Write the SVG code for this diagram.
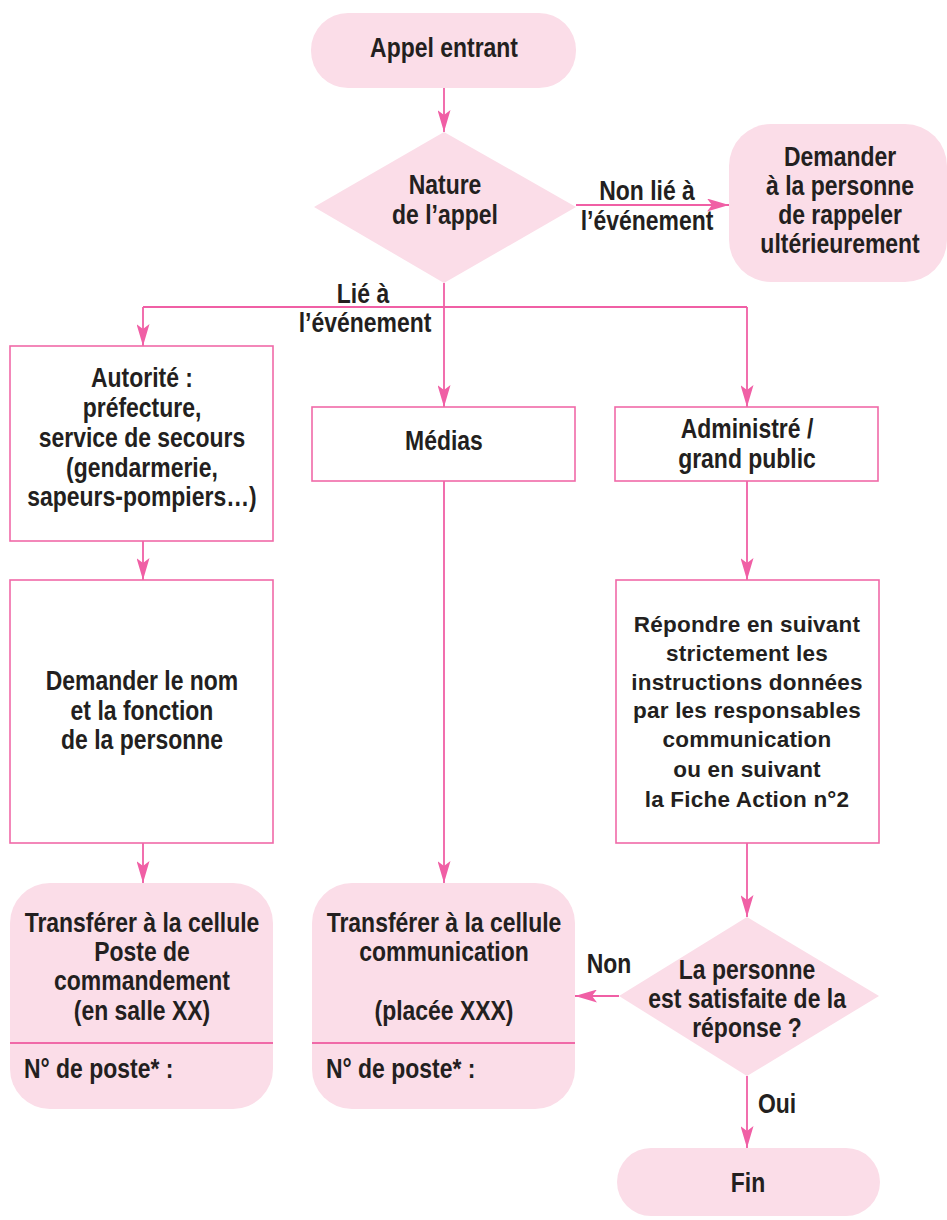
<svg xmlns="http://www.w3.org/2000/svg" width="947" height="1220" viewBox="0 0 947 1220">
<style>
.t{font-family:"Liberation Sans",Arial,sans-serif;font-weight:bold;font-size:27px;fill:#231f20;text-anchor:middle;transform-box:fill-box;transform-origin:50% 50%;transform:scaleX(0.85)}
.w{font-family:"Liberation Sans",Arial,sans-serif;font-weight:bold;font-size:22.5px;fill:#231f20;text-anchor:middle;letter-spacing:0.2px}
.l{text-anchor:start;transform-origin:0% 50%}
.pink{fill:#fbdde8;stroke:none}
.box{fill:#fff;stroke:#f06aa8;stroke-width:1.6}
.c{fill:none;stroke:#f05fa5;stroke-width:1.8}
</style>
<defs>
<marker id="a" viewBox="0 0 22 13" refX="22" refY="6.5" markerWidth="22" markerHeight="13" markerUnits="userSpaceOnUse" orient="auto">
<path d="M0,0 L22,6.5 L0,13 L5,6.5 z" fill="#f05fa5"/>
</marker>
</defs>
<g id="connectors">
<path class="c" d="M444,88 V132" marker-end="url(#a)"/>
<path class="c" d="M576,205 H729" marker-end="url(#a)"/>
<path class="c" d="M444,283 V407" marker-end="url(#a)"/>
<path class="c" d="M143,307 H747"/>
<path class="c" d="M143,307 V346" marker-end="url(#a)"/>
<path class="c" d="M747,307 V407" marker-end="url(#a)"/>
<path class="c" d="M143,541 V580" marker-end="url(#a)"/>
<path class="c" d="M143,843 V883" marker-end="url(#a)"/>
<path class="c" d="M444,481 V883" marker-end="url(#a)"/>
<path class="c" d="M747,481 V580" marker-end="url(#a)"/>
<path class="c" d="M747,843 V917" marker-end="url(#a)"/>
<path class="c" d="M619,996 H575" marker-end="url(#a)"/>
<path class="c" d="M747,1076 V1148" marker-end="url(#a)"/>
<text class="t" x="647" y="200">Non lié à</text>
<text class="t" x="647" y="230">l’événement</text>
<text class="t" x="363" y="303">Lié à</text>
<text class="t" x="365" y="332">l’événement</text>
<text class="t" x="609" y="973">Non</text>
<text class="t" x="777" y="1113">Oui</text>
</g>
<g id="appel">
<rect class="pink" x="311" y="13" width="265" height="75" rx="37"/>
<text class="t" x="444" y="57">Appel entrant</text>
</g>
<g id="nature">
<polygon class="pink" points="444,132 576,207 444,283 314,207"/>
<text class="t" x="445" y="194">Nature</text>
<text class="t" x="445" y="224">de l’appel</text>
</g>
<g id="rappeler">
<rect class="pink" x="729" y="124" width="218" height="158" rx="42"/>
<text class="t" x="840" y="166">Demander</text>
<text class="t" x="840" y="195">à la personne</text>
<text class="t" x="840" y="224">de rappeler</text>
<text class="t" x="840" y="253">ultérieurement</text>
</g>
<g id="autorite">
<rect class="box" x="10" y="346" width="263" height="195"/>
<text class="t" x="142" y="387">Autorité :</text>
<text class="t" x="142" y="417">préfecture,</text>
<text class="t" x="142" y="447">service de secours</text>
<text class="t" x="142" y="477">(gendarmerie,</text>
<text class="t" x="142" y="506">sapeurs-pompiers…)</text>
</g>
<g id="medias">
<rect class="box" x="312" y="407" width="263" height="74"/>
<text class="t" x="444" y="450">Médias</text>
</g>
<g id="administre">
<rect class="box" x="615" y="407" width="263" height="74"/>
<text class="t" x="747" y="438">Administré /</text>
<text class="t" x="747" y="468">grand public</text>
</g>
<g id="demander-nom">
<rect class="box" x="10" y="580" width="263" height="263"/>
<text class="t" x="142" y="690">Demander le nom</text>
<text class="t" x="142" y="720">et la fonction</text>
<text class="t" x="142" y="749">de la personne</text>
</g>
<g id="repondre">
<rect class="box" x="616" y="580" width="263" height="263"/>
<text class="w" x="747" y="632">Répondre en suivant</text>
<text class="w" x="747" y="661">strictement les</text>
<text class="w" x="747" y="690">instructions données</text>
<text class="w" x="747" y="718">par les responsables</text>
<text class="w" x="747" y="747">communication</text>
<text class="w" x="747" y="777">ou en suivant</text>
<text class="w" x="747" y="807">la Fiche Action n°2</text>
</g>
<g id="transfert-pc">
<rect class="pink" x="10" y="883" width="263" height="226" rx="40"/>
<line x1="10" y1="1043" x2="273" y2="1043" stroke="#f06aa8" stroke-width="1.8"/>
<text class="t" x="142" y="932">Transférer à la cellule</text>
<text class="t" x="142" y="961">Poste de</text>
<text class="t" x="142" y="990">commandement</text>
<text class="t" x="142" y="1020">(en salle XX)</text>
<text class="t l" x="24" y="1078">N° de poste* :</text>
</g>
<g id="transfert-com">
<rect class="pink" x="312" y="883" width="263" height="226" rx="40"/>
<line x1="312" y1="1043" x2="575" y2="1043" stroke="#f06aa8" stroke-width="1.8"/>
<text class="t" x="444" y="932">Transférer à la cellule</text>
<text class="t" x="444" y="961">communication</text>
<text class="t" x="444" y="1020">(placée XXX)</text>
<text class="t l" x="326" y="1078">N° de poste* :</text>
</g>
<g id="satisfaite">
<polygon class="pink" points="747,917 879,996 747,1076 619,996"/>
<text class="t" x="747" y="979">La personne</text>
<text class="t" x="747" y="1008">est satisfaite de la</text>
<text class="t" x="747" y="1037">réponse ?</text>
</g>
<g id="fin">
<rect class="pink" x="617" y="1148" width="263" height="68" rx="34"/>
<text class="t" x="748" y="1192">Fin</text>
</g>
</svg>
